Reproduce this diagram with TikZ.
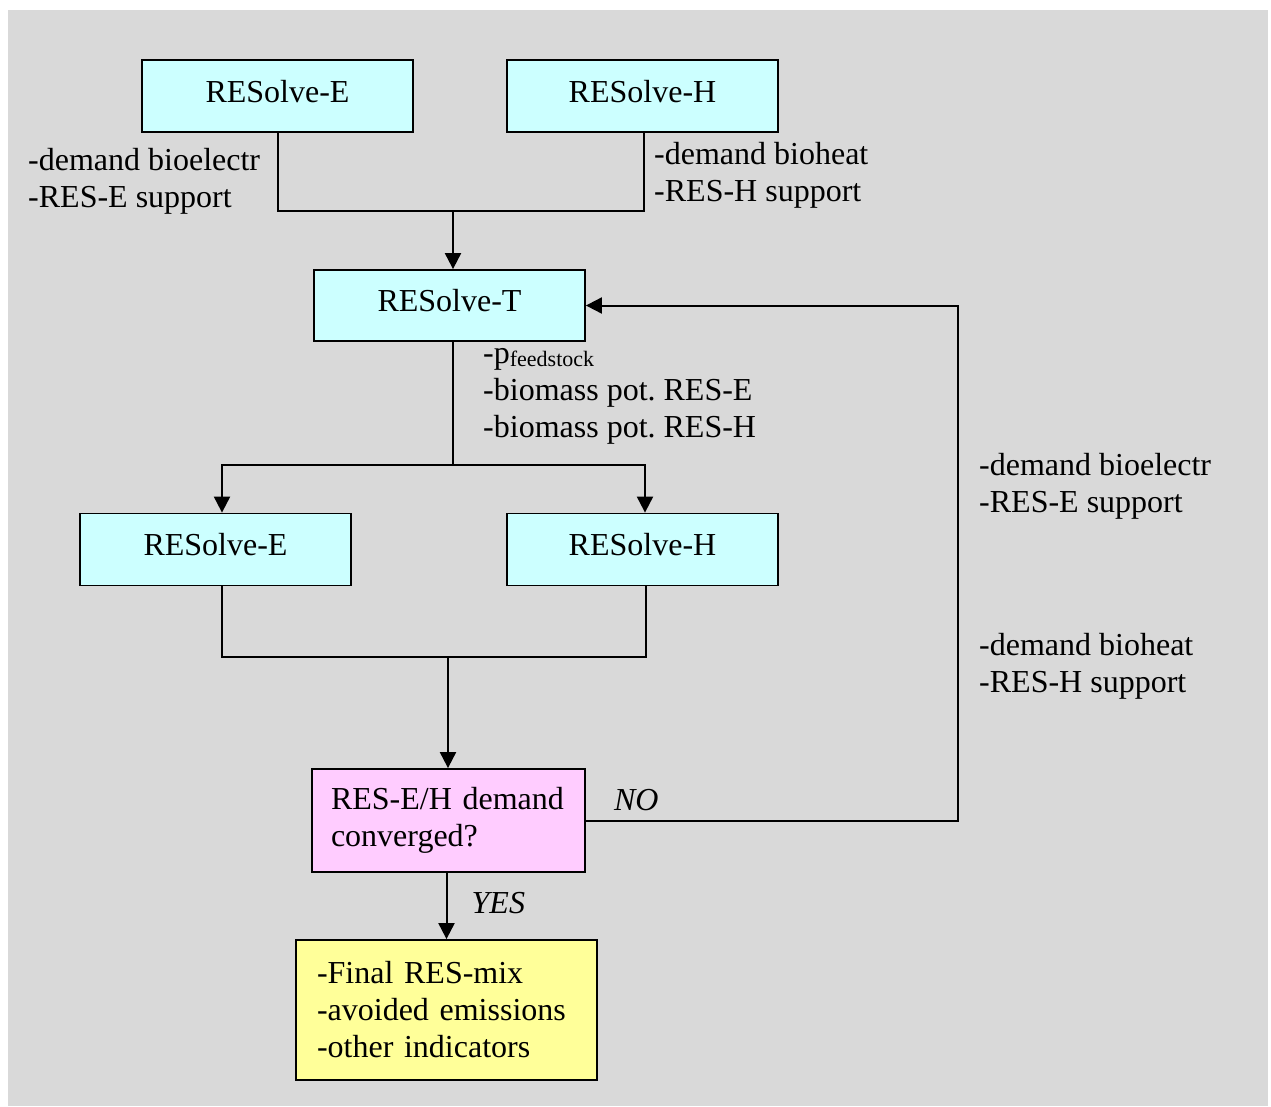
\documentclass[tikz,border=0pt]{standalone}
\usepackage{fontspec}
\setmainfont{Liberation Serif}
\usetikzlibrary{arrows.meta, positioning}
\definecolor{bggray}{RGB}{217,217,217}
\definecolor{modcyan}{RGB}{204,255,255}
\definecolor{convpink}{RGB}{255,204,255}
\definecolor{finyellow}{RGB}{255,255,153}
\begin{document}
\frenchspacing
\begin{tikzpicture}[x=1pt,y=-1pt,
  every node/.style={font=\fontsize{32}{37}\selectfont},
  model/.style={draw,line width=1.8pt,fill=modcyan,minimum width=271pt,minimum height=72pt,
    text height=22pt,text depth=10pt,inner sep=0pt},
  info/.style={align=left,inner sep=0pt,anchor=west},
  link/.style={line width=2pt},
  arr/.style={link,-{Triangle[length=16pt,width=16pt]}}]
\useasboundingbox (0,0) rectangle (1271,1106);
\fill[bggray] (8,10) rectangle (1268,1106);

% first pass
\node[model] (E1) at (277.5,96) {RESolve-E};
\node[model] (H1) at (642.5,96) {RESolve-H};
\node[model,minimum height=71pt] (T) at (449.5,305.5) {RESolve-T};
\node[info] (dE1) at (28,181) {-demand bioelectr\\-RES-E support};
\node[info] (dH1) at (654,175) {-demand bioheat\\-RES-H support};
\coordinate (J1) at (453,211);
\draw[link] (E1) |- (J1) -| ([xshift=1.5pt]H1.south);
\draw[arr] (J1) -- (J1 |- T.north);

% second pass
\node[info] (pot) at (483,396) {-p\raisebox{-3pt}{\fontsize{22}{22}\selectfont feedstock}\\-biomass pot. RES-E\\-biomass pot. RES-H};
\node[model] (E2) at (215.5,549.5) {RESolve-E};
\node[model] (H2) at (642.5,549.5) {RESolve-H};
\coordinate (J2) at (453,465);
\draw[link] (T.south -| J2) -- (J2);
\draw[arr] (J2) -| ([xshift=6.5pt]E2.north);
\draw[arr] (J2) -| ([xshift=2.5pt]H2.north);

% convergence check
\node[draw,line width=1.8pt,fill=convpink,minimum width=273pt,minimum height=103pt,
  align=left,text width=235pt,inner xsep=19pt,inner ysep=0pt] (Conv) at (448.5,820.5) {RES-E/H demand\\converged?};
\coordinate (J3) at (448,657);
\draw[link] ([xshift=6.5pt]E2.south) |- (J3) -| ([xshift=3.5pt]H2.south);
\draw[arr] (J3) -- (J3 |- Conv.north);

% feedback loop
\coordinate (L) at (958,820.5);
\draw[arr] (Conv) -- (L) |- (T);
\node[above right=10pt and 28pt of Conv.east,inner sep=0pt] (no) {\itshape NO};
\node[info] (dE2) at (979,486) {-demand bioelectr\\-RES-E support};
\node[info] (dH2) at (979,666.5) {-demand bioheat\\-RES-H support};

% result
\node[draw,line width=1.8pt,fill=finyellow,minimum width=301pt,minimum height=140pt,
  align=left,text width=259pt,inner xsep=21pt,inner ysep=0pt] (Final) at (446.5,1010) {-Final RES-mix\\-avoided emissions\\-other indicators};
\draw[arr] (Final.north |- Conv.south) -- (Final.north);
\node[below right=19pt and 25pt of Final.north |- Conv.south,inner sep=0pt] (yes) {\itshape YES};
\end{tikzpicture}
\end{document}
